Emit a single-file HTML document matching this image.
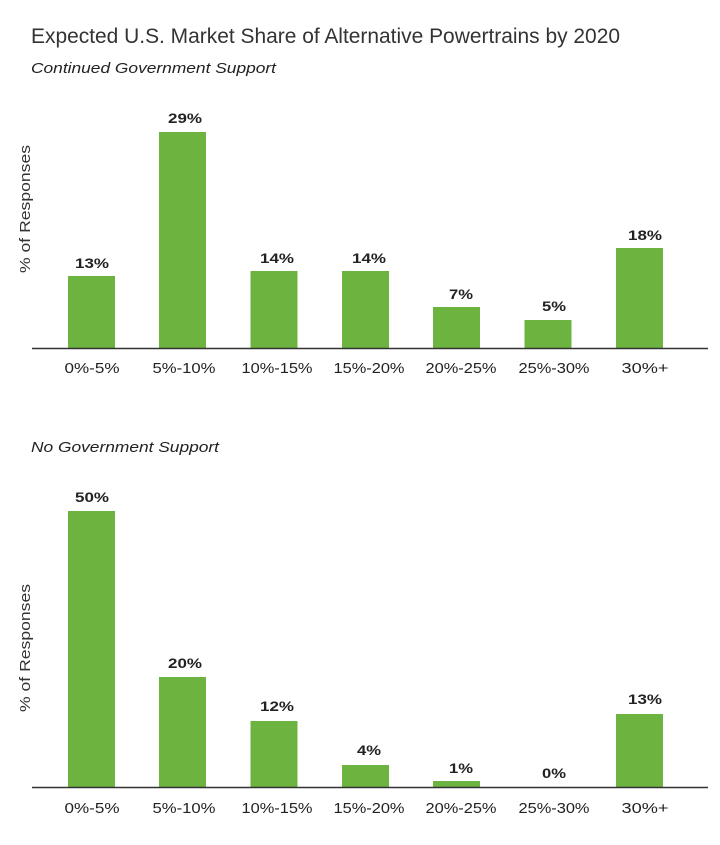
<!DOCTYPE html>
<html><head><meta charset="utf-8"><style>
html,body{margin:0;padding:0;background:#fff}
svg{display:block}
text{font-family:"Liberation Sans",Arial,sans-serif;fill:#222}
.v{font-size:14px;font-weight:bold;text-anchor:middle}
.c{font-size:14.5px;text-anchor:middle}
.y{font-size:15px;fill:#333}
</style></head><body>
<svg width="720" height="845" viewBox="0 0 720 845">
<text x="31" y="43" font-size="21" style="fill:#333" textLength="589" lengthAdjust="spacingAndGlyphs">Expected U.S. Market Share of Alternative Powertrains by 2020</text>
<text x="31" y="73" font-size="15" font-style="italic" textLength="245" lengthAdjust="spacingAndGlyphs">Continued Government Support</text>
<text class="y" transform="translate(30,209) rotate(-90)" text-anchor="middle" textLength="128" lengthAdjust="spacingAndGlyphs">% of Responses</text>
<g fill="#6db33f">
<rect x="68" y="276" width="47" height="72"/>
<rect x="159" y="132" width="47" height="216"/>
<rect x="250.5" y="271" width="47" height="77"/>
<rect x="342" y="271" width="47" height="77"/>
<rect x="433" y="307" width="47" height="41"/>
<rect x="524.5" y="320" width="47" height="28"/>
<rect x="616" y="248" width="47" height="100"/>
</g>
<line x1="32" y1="348.5" x2="708" y2="348.5" stroke="#333" stroke-width="1.5"/>
<text class="v" x="92" y="268" textLength="34" lengthAdjust="spacingAndGlyphs">13%</text>
<text class="v" x="185" y="123" textLength="34" lengthAdjust="spacingAndGlyphs">29%</text>
<text class="v" x="277" y="263" textLength="34" lengthAdjust="spacingAndGlyphs">14%</text>
<text class="v" x="369" y="263" textLength="34" lengthAdjust="spacingAndGlyphs">14%</text>
<text class="v" x="461" y="299" textLength="24" lengthAdjust="spacingAndGlyphs">7%</text>
<text class="v" x="554" y="311" textLength="24" lengthAdjust="spacingAndGlyphs">5%</text>
<text class="v" x="645" y="240" textLength="34" lengthAdjust="spacingAndGlyphs">18%</text>
<text class="c" x="92" y="373" textLength="55" lengthAdjust="spacingAndGlyphs">0%-5%</text>
<text class="c" x="184" y="373" textLength="63" lengthAdjust="spacingAndGlyphs">5%-10%</text>
<text class="c" x="277" y="373" textLength="71" lengthAdjust="spacingAndGlyphs">10%-15%</text>
<text class="c" x="369" y="373" textLength="71" lengthAdjust="spacingAndGlyphs">15%-20%</text>
<text class="c" x="461" y="373" textLength="71" lengthAdjust="spacingAndGlyphs">20%-25%</text>
<text class="c" x="554" y="373" textLength="71" lengthAdjust="spacingAndGlyphs">25%-30%</text>
<text class="c" x="645" y="373" textLength="47" lengthAdjust="spacingAndGlyphs">30%+</text>

<text x="31" y="452" font-size="15" font-style="italic" textLength="188" lengthAdjust="spacingAndGlyphs">No Government Support</text>
<text class="y" transform="translate(30,648) rotate(-90)" text-anchor="middle" textLength="128" lengthAdjust="spacingAndGlyphs">% of Responses</text>
<g fill="#6db33f">
<rect x="68" y="511" width="47" height="276"/>
<rect x="159" y="677" width="47" height="110"/>
<rect x="250.5" y="721" width="47" height="66"/>
<rect x="342" y="765" width="47" height="22"/>
<rect x="433" y="781" width="47" height="6"/>
<rect x="616" y="714" width="47" height="73"/>
</g>
<line x1="32" y1="787.5" x2="708" y2="787.5" stroke="#333" stroke-width="1.5"/>
<text class="v" x="92" y="502" textLength="34" lengthAdjust="spacingAndGlyphs">50%</text>
<text class="v" x="185" y="668" textLength="34" lengthAdjust="spacingAndGlyphs">20%</text>
<text class="v" x="277" y="711" textLength="34" lengthAdjust="spacingAndGlyphs">12%</text>
<text class="v" x="369" y="755" textLength="24" lengthAdjust="spacingAndGlyphs">4%</text>
<text class="v" x="461" y="773" textLength="24" lengthAdjust="spacingAndGlyphs">1%</text>
<text class="v" x="554" y="778" textLength="24" lengthAdjust="spacingAndGlyphs">0%</text>
<text class="v" x="645" y="704" textLength="34" lengthAdjust="spacingAndGlyphs">13%</text>
<text class="c" x="92" y="813" textLength="55" lengthAdjust="spacingAndGlyphs">0%-5%</text>
<text class="c" x="184" y="813" textLength="63" lengthAdjust="spacingAndGlyphs">5%-10%</text>
<text class="c" x="277" y="813" textLength="71" lengthAdjust="spacingAndGlyphs">10%-15%</text>
<text class="c" x="369" y="813" textLength="71" lengthAdjust="spacingAndGlyphs">15%-20%</text>
<text class="c" x="461" y="813" textLength="71" lengthAdjust="spacingAndGlyphs">20%-25%</text>
<text class="c" x="554" y="813" textLength="71" lengthAdjust="spacingAndGlyphs">25%-30%</text>
<text class="c" x="645" y="813" textLength="47" lengthAdjust="spacingAndGlyphs">30%+</text>
</svg>
</body></html>
